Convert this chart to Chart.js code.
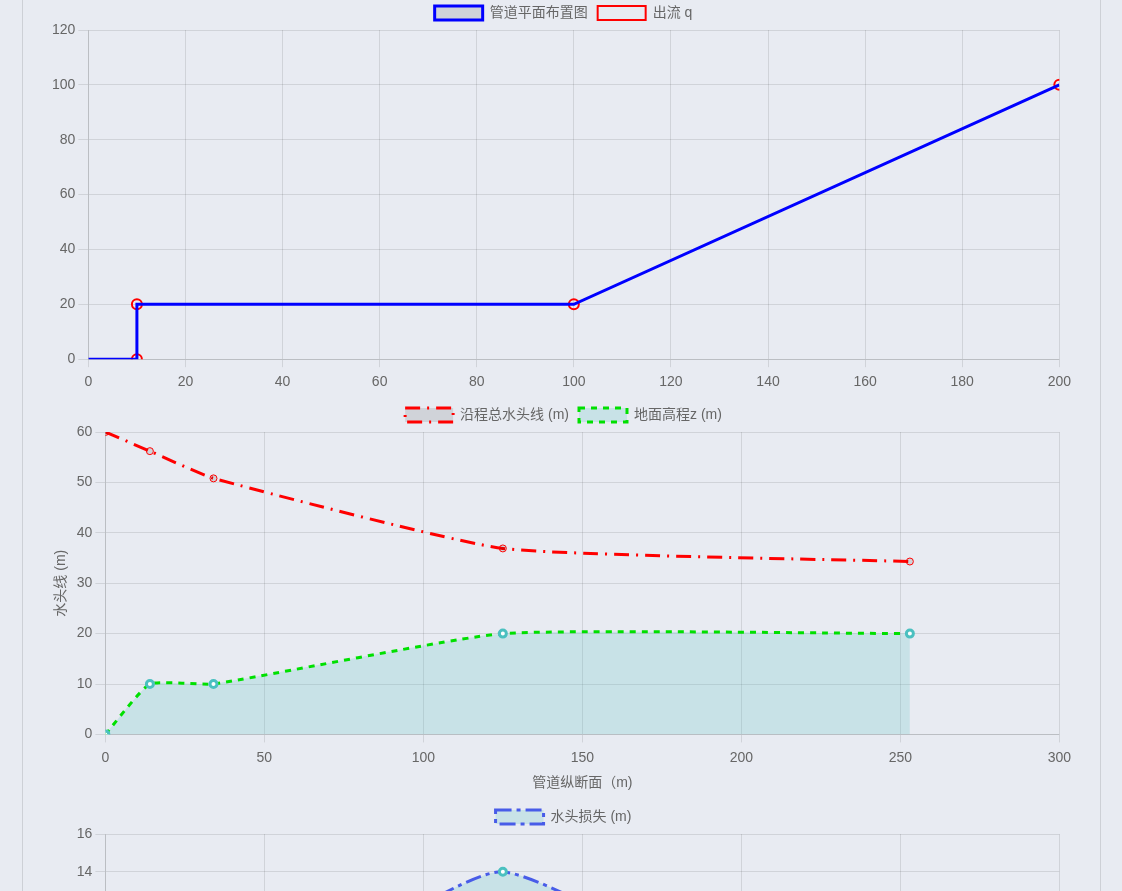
<!DOCTYPE html>
<html lang="zh">
<head>
  <meta charset="UTF-8" />
  <title>管道水力计算</title>
  <script src="https://cdn.jsdelivr.net/npm/chart.js"></script>
  <style>
    html, body { margin: 0; padding: 0; background: #e8ebf2; overflow: hidden; }
    .frame { position: absolute; top: 0; left: 22px; width: 1077px; height: 900px;
             border-left: 1px solid #cdd0d6; border-right: 1px solid #cdd0d6; }
    canvas { position: absolute; left: 49px; }
  </style>
</head>
<body>
  <div class="frame"></div>
  <canvas id="planChart" width="1029" height="402" style="top:-4px"></canvas>
  <canvas id="headChart" width="1029" height="398" style="top:398px"></canvas>
  <canvas id="lossChart" width="1029" height="398" style="top:800px"></canvas>

  <script>
    // 管道平面布置
    const pipeX = [0, 10, 10, 100, 200];
    const pipeY = [0, 0, 20, 20, 100];
    const outflowX = [10, 10, 100, 200];
    const outflowY = [0, 20, 20, 100];

    // 纵断面
    const stations = [0, 14, 34, 125, 253];
    const totalHead = [60, 56.2, 50.8, 36.9, 34.3];
    const groundZ = [0, 10, 10, 20, 20];
    const headLoss = [0, 3.8, 5.4, 14, 2.6];

    const pts = (xs, ys) => xs.map((x, i) => ({ x: x, y: ys[i] }));

    Chart.defaults.font.family = "'Helvetica Neue', Helvetica, Arial, 'Noto Sans CJK SC', sans-serif";
    Chart.defaults.font.size = 14;
    Chart.defaults.color = '#666';
    Chart.defaults.animation = false;

    const legend = { labels: { boxWidth: 48 } };
    const teal = 'rgb(75, 192, 192)';
    const tealFill = 'rgba(75, 192, 192, 0.2)';
    const xTicks = (max, step) => ({ type: 'linear', min: 0, max: max, ticks: { stepSize: step, padding: 7 } });

    new Chart(document.getElementById('planChart'), {
      type: 'scatter',
      data: {
        datasets: [{
          label: '管道平面布置图',
          data: pts(pipeX, pipeY),
          showLine: true,
          borderColor: '#0000ff',
          borderWidth: 3,
          pointRadius: 0,
          tension: 0
        }, {
          label: '出流 q',
          data: pts(outflowX, outflowY),
          borderColor: 'red',
          backgroundColor: 'rgba(0,0,0,0)',
          borderWidth: 1,
          pointRadius: 5,
          pointBorderWidth: 2
        }]
      },
      options: {
        responsive: false,
        plugins: { legend: legend, tooltip: { enabled: false } },
        scales: {
          x: xTicks(200, 20),
          y: { min: 0, max: 120, ticks: { stepSize: 20 }, grid: { tickLength: 10 } }
        }
      }
    });

    new Chart(document.getElementById('headChart'), {
      type: 'line',
      data: {
        datasets: [{
          label: '沿程总水头线 (m)',
          data: pts(stations, totalHead),
          borderColor: 'red',
          borderWidth: 3,
          borderDash: [15, 7, 2, 7],
          pointBorderWidth: 1,
          pointRadius: 3.5,
          fill: false,
          tension: 0.15
        }, {
          label: '地面高程z (m)',
          data: pts(stations, groundZ),
          borderColor: '#00e000',
          backgroundColor: tealFill,
          borderWidth: 3,
          borderDash: [6, 6],
          pointBorderColor: teal,
          pointBackgroundColor: '#fff',
          pointBorderWidth: 3,
          pointRadius: 3.5,
          fill: 'origin',
          tension: 0.15
        }]
      },
      options: {
        responsive: false,
        plugins: { legend: legend, tooltip: { enabled: false } },
        scales: {
          x: Object.assign(xTicks(300, 50), {
               title: { display: true, text: '管道纵断面（m)', padding: { top: 2, bottom: 4 } } }),
          y: { min: 0, max: 60, ticks: { stepSize: 10 }, grid: { tickLength: 10 },
               title: { display: true, text: '水头线 (m)' } }
        }
      }
    });

    new Chart(document.getElementById('lossChart'), {
      type: 'line',
      data: {
        datasets: [{
          label: '水头损失 (m)',
          data: pts(stations, headLoss),
          borderColor: 'rgb(72, 92, 232)',
          backgroundColor: tealFill,
          borderWidth: 3,
          borderDash: [16, 5, 4, 5],
          pointBorderColor: teal,
          pointBackgroundColor: '#fff',
          pointBorderWidth: 3,
          pointRadius: 3.5,
          fill: 'origin',
          tension: 0.15
        }]
      },
      options: {
        responsive: false,
        plugins: { legend: legend, tooltip: { enabled: false } },
        scales: {
          x: Object.assign(xTicks(300, 50), {
               title: { display: true, text: '管道纵断面（m)', padding: { top: 2, bottom: 4 } } }),
          y: { min: 0, max: 16, ticks: { stepSize: 2 }, grid: { tickLength: 10 },
               title: { display: true, text: '水头损失 (m)' } }
        }
      }
    });
  </script>
</body>
</html>
